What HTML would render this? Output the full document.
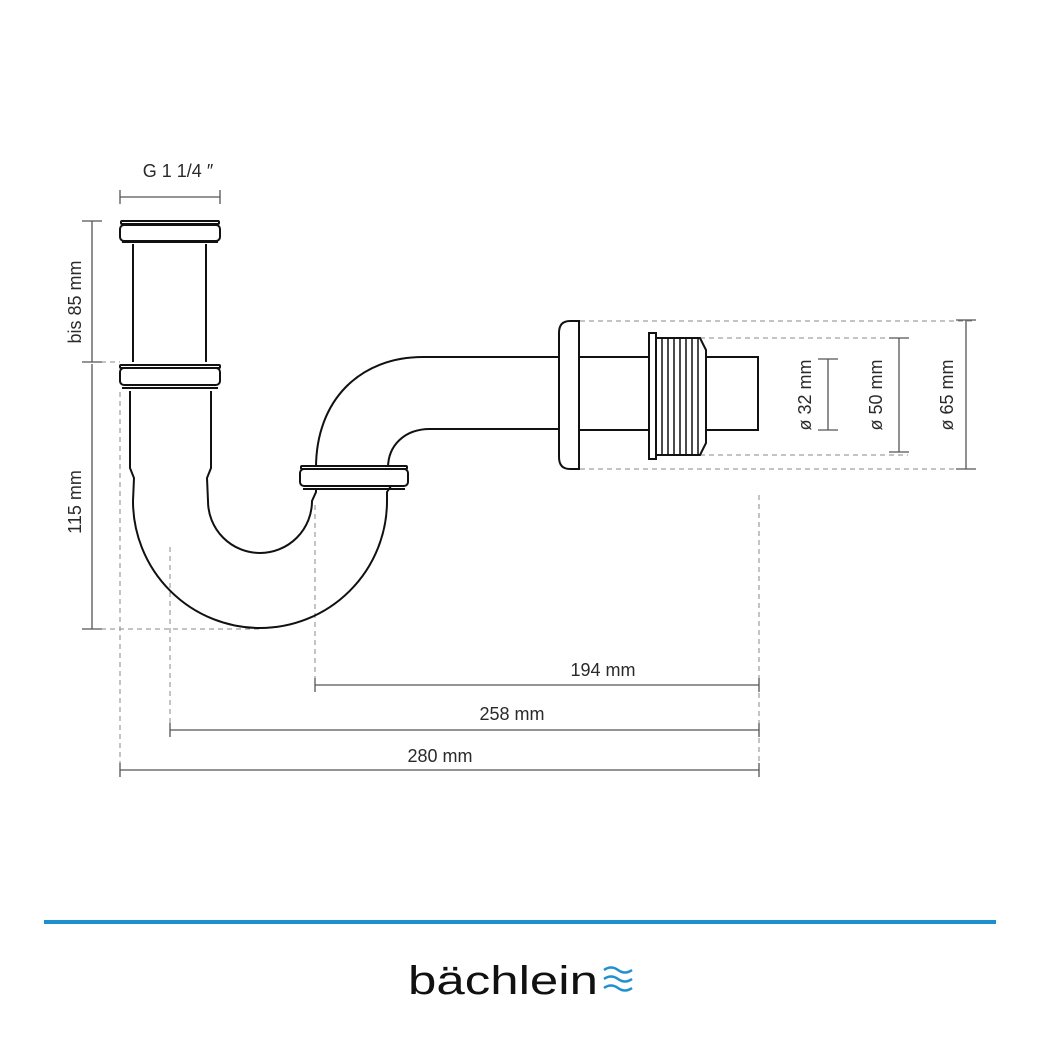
<!DOCTYPE html>
<html><head><meta charset="utf-8"><style>
html,body{margin:0;padding:0;background:#fff}
svg{display:block}
text{font-family:"Liberation Sans",sans-serif;fill:#2a2a2a;font-size:18px}
</style></head><body>
<svg width="1040" height="1040" viewBox="0 0 1040 1040">
<g fill="none" stroke="#888" stroke-width="1" stroke-dasharray="5,4">
<line x1="92" y1="362" x2="120" y2="362"/>
<line x1="92" y1="629" x2="260" y2="629"/>
<line x1="120" y1="392" x2="120" y2="770"/>
<line x1="170" y1="547" x2="170" y2="730"/>
<line x1="315" y1="505" x2="315" y2="685"/>
<line x1="759" y1="495" x2="759" y2="770"/>
<line x1="580" y1="321" x2="972" y2="321"/>
<line x1="580" y1="469" x2="972" y2="469"/>
<line x1="700" y1="338" x2="908" y2="338"/>
<line x1="700" y1="455" x2="908" y2="455"/>
</g>
<g fill="none" stroke="#555" stroke-width="1.3">
<line x1="120" y1="197" x2="220" y2="197"/><line x1="120" y1="190" x2="120" y2="204"/><line x1="220" y1="190" x2="220" y2="204"/>
<line x1="92" y1="221" x2="92" y2="362"/><line x1="82" y1="221" x2="102" y2="221"/><line x1="82" y1="362" x2="102" y2="362"/>
<line x1="92" y1="364" x2="92" y2="629"/><line x1="82" y1="629" x2="102" y2="629"/>
<line x1="315" y1="685" x2="759" y2="685"/><line x1="315" y1="678" x2="315" y2="692"/><line x1="759" y1="678" x2="759" y2="692"/>
<line x1="170" y1="730" x2="759" y2="730"/><line x1="170" y1="723" x2="170" y2="737"/><line x1="759" y1="723" x2="759" y2="737"/>
<line x1="120" y1="770" x2="759" y2="770"/><line x1="120" y1="763" x2="120" y2="777"/><line x1="759" y1="763" x2="759" y2="777"/>
<line x1="828" y1="359" x2="828" y2="430"/><line x1="818" y1="359" x2="838" y2="359"/><line x1="818" y1="430" x2="838" y2="430"/>
<line x1="899" y1="338" x2="899" y2="452"/><line x1="889" y1="338" x2="909" y2="338"/><line x1="889" y1="452" x2="909" y2="452"/>
<line x1="966" y1="320" x2="966" y2="469"/><line x1="956" y1="320" x2="976" y2="320"/><line x1="956" y1="469" x2="976" y2="469"/>
</g>
<g fill="#fff" stroke="#111" stroke-width="2">
<rect x="121" y="221" width="98" height="3" rx="1"/>
<rect x="120" y="225" width="100" height="16" rx="4"/>
<line x1="122" y1="242" x2="218" y2="242"/>
<line x1="133" y1="244" x2="133" y2="362"/><line x1="206" y1="244" x2="206" y2="362"/>
<rect x="120" y="365" width="100" height="3" rx="1"/>
<rect x="120" y="368" width="100" height="17" rx="4"/>
<line x1="122" y1="388" x2="218" y2="388"/>
<path d="M130,391 L130,468 L134,478 L133,501 A127,127 0 0 0 387,501 L387,492 L391,486" fill="none"/>
<path d="M211,391 L211,468 L207,478 L208,501 A52,52 0 0 0 312,501 L316,492 L316,488" fill="none"/>
<path d="M316,468 C316,400 360,357 423,357 L558,357" fill="none"/>
<path d="M388,468 C388,445 405,429 430,429 L558,429" fill="none"/>
<rect x="301" y="466" width="106" height="3" rx="1"/>
<rect x="300" y="469" width="108" height="17" rx="4"/>
<line x1="303" y1="489" x2="405" y2="489"/>
<path d="M579,321 L570,321 Q559,321 559,333 L559,457 Q559,469 570,469 L579,469 Z"/>
<line x1="579" y1="357" x2="649" y2="357"/><line x1="579" y1="430" x2="649" y2="430"/>
<rect x="649" y="333" width="7" height="126"/>
<path d="M656,338 L700,338 L706,350 L706,443 L700,455 L656,455 Z"/>
<rect x="706" y="357" width="52" height="73"/>
</g>
<g stroke="#111" stroke-width="1.5">
<line x1="662" y1="338" x2="662" y2="455"/><line x1="668" y1="338" x2="668" y2="455"/><line x1="674" y1="338" x2="674" y2="455"/><line x1="680" y1="338" x2="680" y2="455"/><line x1="686" y1="338" x2="686" y2="455"/><line x1="692" y1="338" x2="692" y2="455"/><line x1="698" y1="338" x2="698" y2="455"/>
</g>
<text x="178" y="177" text-anchor="middle">G 1  1/4 ″</text>
<text transform="translate(81,302) rotate(-90)" text-anchor="middle">bis 85 mm</text>
<text transform="translate(81,502) rotate(-90)" text-anchor="middle">115 mm</text>
<text x="603" y="676" text-anchor="middle">194 mm</text>
<text x="512" y="720" text-anchor="middle">258 mm</text>
<text x="440" y="762" text-anchor="middle">280 mm</text>
<text transform="translate(811,395) rotate(-90)" text-anchor="middle">ø 32 mm</text>
<text transform="translate(882,395) rotate(-90)" text-anchor="middle">ø 50 mm</text>
<text transform="translate(953,395) rotate(-90)" text-anchor="middle">ø 65 mm</text>
<rect x="44" y="920" width="952" height="4" fill="#1e90d0"/>
<text x="408" y="994" textLength="190" lengthAdjust="spacingAndGlyphs" style="font-size:40px;fill:#111">bächlein</text>
<g fill="none" stroke="#1e90d0" stroke-width="2.5">
<path d="M604,970 q7,-5 14,0 t14,0"/><path d="M604,979 q7,-5 14,0 t14,0"/><path d="M604,988 q7,-5 14,0 t14,0"/>
</g>
</svg>
</body></html>
